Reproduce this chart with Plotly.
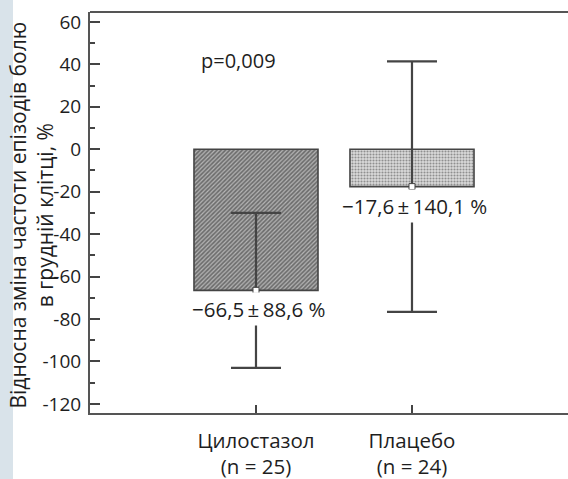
import plotly.graph_objects as go

# data
categories = ["Цилостазол<br>(n = 25)", "Плацебо<br>(n = 24)"]
means = [-66.5, -17.6]
ci_err = [36.5, 59.0]
labels = ["−66,5\u2009±\u200988,6 %", "−17,6\u2009±\u2009140,1 %"]
label_y = [-75.5, -26.5]
y_tickvals = [60, 40, 20, 0, -20, -40, -60, -80, -100, -120]
y_ticktext = ["60", "40", "20", "0", "-20", "-40", "-60", "-80", "-100", "-120"]
p_text = "p=0,009"

FONT = "Open Sans"
DARK = "#444444"
TXT = "#1e1e1e"

fig = go.Figure()

fig.add_trace(go.Bar(
    x=categories, y=means, width=0.795,
    marker=dict(
        color=["#6e6e6e", "#dadada"],
        line=dict(color=DARK, width=1.6),
        pattern=dict(shape=["/", "."], size=3, solidity=0.4,
                     fgcolor=["#5a5a5a", "#b0b0b0"]),
    ),
    error_y=dict(type="data", array=ci_err, visible=True,
                 thickness=2.2, width=25, color=DARK),
    showlegend=False,
))

fig.add_trace(go.Scatter(
    x=categories, y=means, mode="markers",
    marker=dict(symbol="square", size=6, color="white",
                line=dict(color=DARK, width=1)),
    showlegend=False,
))

for c, t, ly in zip(categories, labels, label_y):
    fig.add_annotation(x=c, y=ly, text=t, showarrow=False,
                       font=dict(family=FONT, size=20.5, color=TXT),
                       bgcolor="white", borderpad=2, xshift=3)

fig.add_annotation(x=-0.115, y=42, text=p_text, showarrow=False,
                   font=dict(family=FONT, size=20, color=TXT))

fig.add_annotation(
    xref="paper", yref="paper", x=0, y=0.5, xshift=-59, yshift=-3,
    text="Відносна зміна частоти епізодів болю<br>в грудній клітці, %",
    textangle=-90, showarrow=False, xanchor="center", yanchor="middle",
    font=dict(family=FONT, size=21, color=TXT))

# left decorative strip and top frame line
fig.add_shape(type="rect", xref="paper", yref="paper",
              x0=-90/478, x1=(13-90)/478, y0=-0.3, y1=1.1,
              fillcolor="#d9e3ea", line=dict(width=0), layer="below")
fig.add_shape(type="line", xref="paper", yref="paper",
              x0=0, x1=1, y0=1, y1=1, line=dict(color="#555555", width=2))

fig.update_layout(
    width=568, height=479,
    margin=dict(l=90, r=0, t=12, b=66, autoexpand=False),
    paper_bgcolor="white", plot_bgcolor="white",
    font=dict(family=FONT, size=19, color=TXT),
)
fig.update_xaxes(type="category", range=[-1.064, 2.0], automargin=False,
                 showline=True, linecolor="#555555", linewidth=2,
                 ticks="inside", ticklen=8, tickwidth=2, tickcolor=DARK,
                 showgrid=False, zeroline=False, ticklabelstandoff=8,
                 tickfont=dict(family=FONT, size=20.5, color=TXT))
fig.update_yaxes(range=[-124.3, 64.7], tickvals=y_tickvals, ticktext=y_ticktext,
                 automargin=False,
                 showline=True, linecolor="#555555", linewidth=2,
                 ticks="inside", ticklen=10, tickwidth=2, tickcolor=DARK,
                 minor=dict(dtick=10, ticks="inside", ticklen=5, tickwidth=1.5,
                            tickcolor=DARK),
                 showgrid=False, zeroline=False, ticklabelstandoff=3,
                 tickfont=dict(family=FONT, size=19, color=TXT))

fig.write_html("out.html", config={"displayModeBar": False},
               post_script="document.body.style.margin='0';document.body.style.padding='0';")
